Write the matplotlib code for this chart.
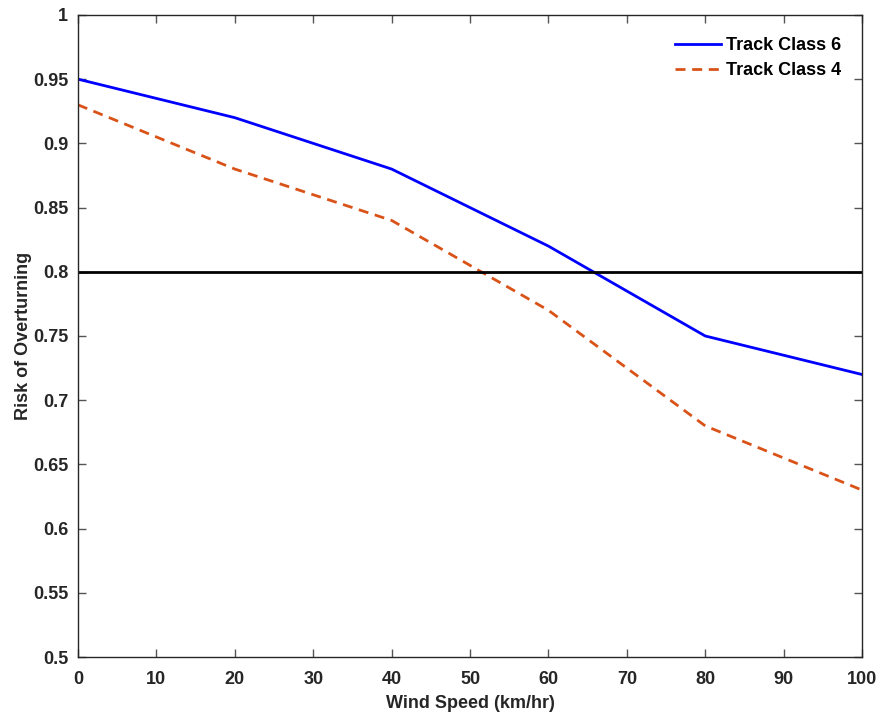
import matplotlib
matplotlib.use("Agg")
import matplotlib.pyplot as plt

wind_speed = [0, 20, 40, 60, 80, 100]
track_class_6 = [0.95, 0.92, 0.88, 0.82, 0.75, 0.72]
track_class_4 = [0.93, 0.88, 0.84, 0.77, 0.68, 0.63]
threshold = 0.8
x_ticks = list(range(0, 101, 10))
y_ticks = [0.5, 0.55, 0.6, 0.65, 0.7, 0.75, 0.8, 0.85, 0.9, 0.95, 1.0]
y_tick_labels = ["0.5", "0.55", "0.6", "0.65", "0.7", "0.75", "0.8", "0.85", "0.9", "0.95", "1"]

plt.rcParams["font.family"] = ["Liberation Sans", "DejaVu Sans"]
plt.rcParams["font.weight"] = "bold"

fs = 13
text_color = "#262626"

fig = plt.figure(figsize=(8.79, 7.15), dpi=100)
ax = fig.add_axes([0.0887, 0.0811, 0.892, 0.898])

ax.plot(wind_speed, track_class_6, color="#0000FF", lw=2.0, label="Track Class 6")
ax.plot(wind_speed, track_class_4, color="#D95319", lw=2.0, ls=(0, (3.6, 2.4)), label="Track Class 4")
ax.axhline(threshold, color="black", lw=2.0)

ax.set_xlim(0, 100)
ax.set_ylim(0.5, 1.0)
ax.set_xticks(x_ticks)
ax.set_yticks(y_ticks)
ax.set_yticklabels(y_tick_labels)
ax.tick_params(direction="in", top=True, right=True, length=6, width=1,
               color="#555555", labelsize=fs, labelcolor=text_color)
ax.tick_params(axis="x", pad=10)
ax.tick_params(axis="y", pad=7)
for lbl in ax.get_xticklabels() + ax.get_yticklabels():
    lbl.set_fontweight("bold")
for sp in ax.spines.values():
    sp.set_color(text_color)
    sp.set_linewidth(1.0)

ax.set_xlabel("Wind Speed (km/hr)", fontsize=fs, fontweight="bold", color=text_color, labelpad=5)
ax.set_ylabel("Risk of Overturning", fontsize=fs, fontweight="bold", color=text_color, labelpad=1)

leg = ax.legend(loc="upper right", bbox_to_anchor=(0.982, 0.977), frameon=False,
                fontsize=fs, handlelength=2.55, handletextpad=0.25, labelspacing=0.45,
                borderaxespad=0.0)
for t in leg.get_texts():
    t.set_fontweight("bold")

fig.savefig("out.png", dpi=100)
